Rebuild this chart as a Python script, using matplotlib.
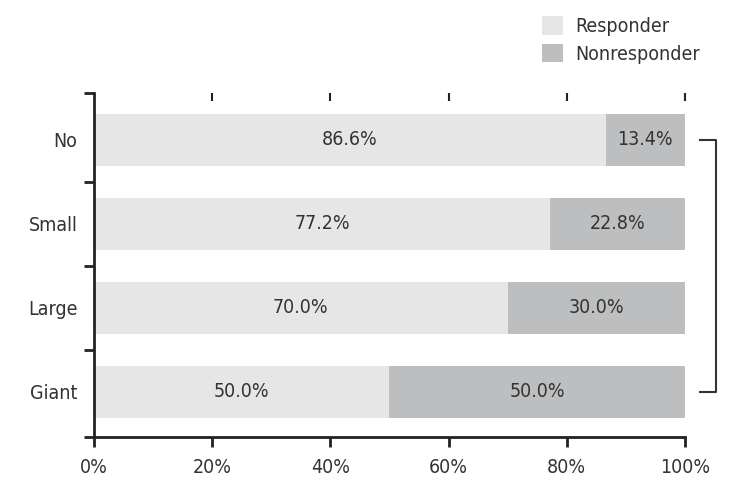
import matplotlib.pyplot as plt
from matplotlib.ticker import FixedLocator, NullFormatter

plt.rcParams['font.family'] = ['DejaVu Sans']
plt.rcParams['font.stretch'] = 'condensed'

#--- Data
groups = ["No", "Small", "Large", "Giant"]
responder = [86.6, 77.2, 70.0, 50.0]
nonresponder = [13.4, 22.8, 30.0, 50.0]
xticks = [0, 20, 40, 60, 80, 100]

txt = "#333333"
c_resp = "#e6e6e6"
c_non = "#bdbec0"

fig = plt.figure(figsize=(7.47, 5), dpi=100)
ax = fig.add_axes([0.1258, 0.126, 0.7912, 0.688])

y = list(range(len(groups)))
ax.barh(y, responder, height=0.62, color=c_resp, label="Responder")
ax.barh(y, nonresponder, left=responder, height=0.62, color=c_non, label="Nonresponder")

for i in y:
    ax.text(responder[i] / 2, i, f"{responder[i]:.1f}%", ha="center", va="center",
            fontsize=14, color=txt)
    ax.text(responder[i] + nonresponder[i] / 2, i, f"{nonresponder[i]:.1f}%",
            ha="center", va="center", fontsize=14, color=txt)

ax.set_xlim(0, 100)
ax.set_ylim(3.54, -0.56)

for s in ["top", "right"]:
    ax.spines[s].set_visible(False)
for s in ["left", "bottom"]:
    ax.spines[s].set_linewidth(2)
    ax.spines[s].set_color("#222222")

ax.set_xticks(xticks)
ax.set_xticklabels([f"{t}%" for t in xticks])
ax.tick_params(axis="x", length=7, width=2, color="#222222", labelsize=14,
               labelcolor=txt, pad=8)

ax.set_yticks(y)
ax.set_yticklabels(groups)
ax.yaxis.set_minor_locator(FixedLocator([-0.56, 0.5, 1.5, 2.5, 3.54]))
ax.yaxis.set_minor_formatter(NullFormatter())
ax.tick_params(axis="y", which="major", length=0, labelsize=14, labelcolor=txt, pad=12)
ax.tick_params(axis="y", which="minor", length=7, width=2, color="#222222")

# short ticks along the top edge
top = ax.secondary_xaxis("top")
top.spines["top"].set_visible(False)
top.set_xticks(xticks[1:])
top.set_xticklabels([])
top.tick_params(direction="in", length=6, width=1.5, color="#222222")

# bracket on the right
ax.plot([102.5, 105.2, 105.2, 102.5], [0, 0, 3, 3], color="#333333",
        linewidth=1.5, clip_on=False)

fig.legend(loc="upper left", bbox_to_anchor=(0.702, 1.003), frameon=False,
           fontsize=14, handlelength=1.1, handleheight=1.1, handletextpad=0.6,
           labelspacing=0.4, labelcolor=txt)

fig.savefig("out.png", dpi=100)
